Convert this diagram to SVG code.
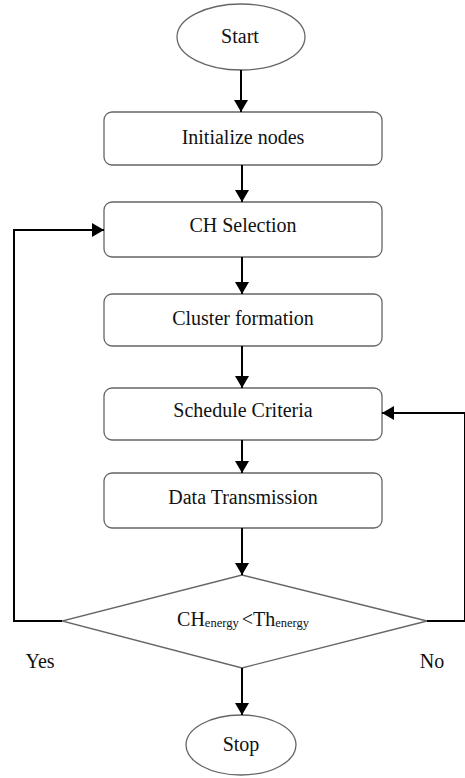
<svg xmlns="http://www.w3.org/2000/svg" width="465" height="778" viewBox="0 0 465 778">
<defs>
<marker id="ah" viewBox="0 0 12 14" refX="12" refY="7" markerWidth="12" markerHeight="14" markerUnits="userSpaceOnUse" orient="auto">
<path d="M0,0 L12,7 L0,14 Z" fill="#000"/>
</marker>
<style>
.box{fill:#fff;stroke:#666;stroke-width:1.3}
.t{font-family:'Liberation Serif','DejaVu Serif',serif;font-size:20px;fill:#111;text-anchor:middle;dominant-baseline:central}
.a{fill:none;stroke:#000;stroke-width:2;marker-end:url(#ah)}
</style>
</defs>
<rect width="465" height="778" fill="#fff"/>
<g id="start"><ellipse class="box" cx="241" cy="37" rx="64" ry="33"/><text class="t" x="240" y="36">Start</text></g>
<g id="init"><rect class="box" x="104" y="112" width="278" height="53" rx="8"/><text class="t" x="243" y="137">Initialize nodes</text></g>
<g id="ch"><rect class="box" x="104" y="202" width="278" height="55" rx="8"/><text class="t" x="243" y="225">CH Selection</text></g>
<g id="cluster"><rect class="box" x="104" y="294" width="278" height="52" rx="8"/><text class="t" x="243" y="318">Cluster formation</text></g>
<g id="schedule"><rect class="box" x="104" y="388" width="278" height="52" rx="8"/><text class="t" x="243" y="410">Schedule Criteria</text></g>
<g id="data"><rect class="box" x="104" y="473" width="278" height="55" rx="8"/><text class="t" x="243" y="497">Data Transmission</text></g>
<g id="decision"><polygon class="box" points="242,575 427,621 242,668 62,621"/>
<text class="t" x="243" y="619">CH<tspan font-size="12.5" dy="4">energy</tspan><tspan dy="-4" dx="3">&lt;Th</tspan><tspan font-size="12.5" dy="4">energy</tspan></text></g>
<g id="stop"><ellipse class="box" cx="241" cy="745" rx="55" ry="30"/><text class="t" x="241" y="744">Stop</text></g>
<g id="connectors">
<line class="a" x1="241" y1="70" x2="241" y2="112"/>
<line class="a" x1="242" y1="165" x2="242" y2="202"/>
<line class="a" x1="242" y1="257" x2="242" y2="294"/>
<line class="a" x1="242" y1="346" x2="242" y2="388"/>
<line class="a" x1="242" y1="440" x2="242" y2="473"/>
<line class="a" x1="242" y1="528" x2="242" y2="575"/>
<line class="a" x1="242" y1="668" x2="242" y2="715"/>
<polyline class="a" points="62,621 14,621 14,230 104,230"/>
<polyline class="a" points="427,621 465,621 465,413 382,413"/>
</g>
<g id="labels">
<text class="t" x="40" y="661">Yes</text>
<text class="t" x="432" y="661">No</text>
</g>
</svg>
